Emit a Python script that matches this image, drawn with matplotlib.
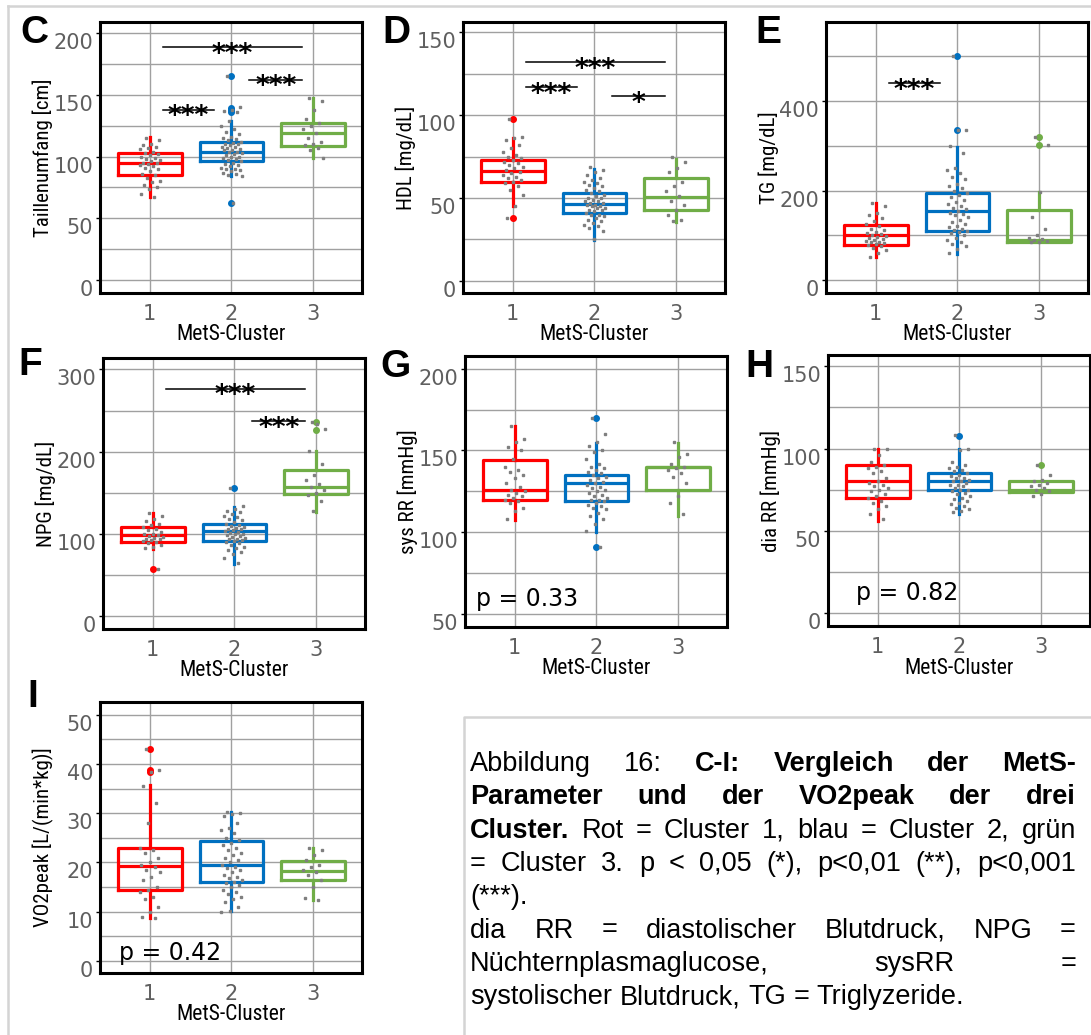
import matplotlib

matplotlib.use("Agg")
import matplotlib.pyplot as plt
from matplotlib.lines import Line2D
import numpy as np

W, H = 1091, 1035
COLORS = ["#ff0000", "#0070c0", "#70ad47"]
CLUSTERS = [1, 2, 3]
NARROW = ["Liberation Sans Narrow", "Roboto Condensed", "Liberation Sans"]

# ---- C: Taillenumfang ----
c_q1 = [85, 96, 108.7]
c_med = [95, 103.6, 118.7]
c_q3 = [102.5, 111.4, 127]
c_wlo = [67, 84, 98.5]
c_whi = [115.4, 129, 147]
c_fliers = [[], [165, 139.6, 138, 136, 62.5], []]
c_pts = [
    [115, 113, 110, 109, 108, 107, 106, 104, 103, 102, 101, 100, 99, 98, 97, 96, 95, 95,
     94, 93, 92, 91, 90, 88, 86, 85, 83, 80, 79, 77, 75, 74, 70, 67],
    [165, 140, 138, 137, 136, 129, 125, 122, 120, 118, 116, 115, 114, 113, 112, 111, 110,
     110, 109, 108, 108, 107, 106, 105, 105, 104, 104, 103, 102, 101, 100, 100, 99, 98, 97,
     96, 95, 94, 93, 92, 91, 90, 90, 89, 88, 87, 86, 85, 84, 62],
    [147, 145, 138, 130, 127, 125, 122, 119, 115, 112, 110, 109, 107, 105, 99],
]
c_sig = [(1, 3, 188.5, "***"), (2, 3, 162, "***"), (1, 2, 137.7, "***")]

# ---- D: HDL ----
d_q1 = [59.6, 40.7, 42.7]
d_med = [66.3, 46.3, 50.4]
d_q3 = [72.8, 53, 62]
d_wlo = [45.3, 24.4, 35.6]
d_whi = [86, 67.7, 73.8]
d_fliers = [[97.8, 37.8], [], []]
d_pts = [
    [98, 87, 86, 85, 82, 80, 78, 76, 75, 74, 73, 72, 71, 70, 69, 68, 67, 66, 65, 64, 63,
     62, 61, 60, 59, 57, 55, 52, 45, 38],
    [69, 67, 66, 64, 62, 61, 60, 59, 58, 57, 56, 55, 54, 53, 52, 51, 50, 50, 49, 48, 48,
     47, 47, 46, 46, 45, 45, 44, 44, 43, 43, 42, 41, 40, 40, 39, 38, 37, 36, 35, 34, 33,
     32, 30, 25],
    [75, 72, 68, 66, 60, 57, 54, 51, 48, 46, 43, 40, 37, 36],
]
d_sig = [(1, 3, 132, "***"), (1, 2, 116.9, "***"), (2, 3, 111.4, "*")]

# ---- E: TG ----
e_q1 = [78, 110, 85.4]
e_med = [99.6, 154, 90]
e_q3 = [123.6, 194.8, 156.5]
e_wlo = [51, 59, 85.4]
e_whi = [173, 298, 197]
e_fliers = [[], [500, 335.6], [319, 302.6]]
e_pts = [
    [173, 165, 150, 145, 138, 132, 125, 120, 115, 112, 108, 105, 103, 100, 98, 96, 94, 92,
     90, 88, 86, 84, 82, 80, 78, 75, 72, 68, 60, 52],
    [500, 336, 335, 300, 285, 250, 245, 240, 230, 225, 215, 210, 205, 200, 195, 190, 185,
     180, 175, 170, 165, 160, 158, 155, 150, 148, 145, 140, 135, 130, 125, 120, 118, 115,
     112, 110, 108, 105, 100, 95, 90, 85, 80, 75, 70, 60],
    [319, 303, 197, 140, 115, 100, 95, 92, 90, 88, 86, 85],
]
e_sig = [(1, 2, 440, "***")]

# ---- F: NPG ----
f_q1 = [89.8, 91.4, 147.8]
f_med = [98, 103, 156.3]
f_q3 = [108, 112, 177.6]
f_wlo = [81.6, 62.4, 126.5]
f_whi = [125, 132.7, 200.8]
f_fliers = [[57], [156], [235.5, 226.5]]
f_pts = [
    [125, 122, 118, 115, 112, 110, 108, 106, 104, 102, 100, 99, 98, 97, 96, 95, 94, 93,
     92, 91, 90, 88, 86, 84, 82, 57],
    [156, 134, 130, 128, 126, 124, 122, 120, 118, 116, 114, 112, 110, 109, 108, 107, 106,
     105, 104, 103, 102, 101, 100, 99, 98, 97, 96, 95, 94, 93, 92, 91, 90, 88, 86, 84, 82,
     80, 78, 75, 70, 64],
    [236, 227, 233, 201, 185, 172, 165, 160, 157, 153, 150, 147, 140, 127],
]
f_sig = [(1, 3, 276.7, "***"), (2, 3, 236.7, "***")]

# ---- G: sys RR ----
g_q1 = [119.8, 119.4, 126.1]
g_med = [126.1, 130, 140.2]
g_q3 = [144.3, 134.9, 140.2]
g_wlo = [107.6, 100, 110.2]
g_whi = [164.7, 154.7, 154.7]
g_fliers = [[], [169.8, 90.8], []]
g_pts = [
    [165, 157, 155, 152, 150, 145, 140, 138, 137, 135, 133, 130, 128, 126, 125, 124, 123,
     122, 121, 120, 119, 118, 115, 113, 108],
    [170, 160, 155, 153, 150, 149, 145, 142, 140, 139, 138, 137, 136, 135, 134, 133, 132,
     131, 130, 129, 128, 127, 126, 125, 124, 123, 122, 121, 120, 120, 119, 118, 117, 116,
     115, 114, 112, 110, 108, 105, 101, 91],
    [155, 148, 146, 142, 140, 139, 138, 136, 134, 130, 122, 118, 111],
]

# ---- H: dia RR ----
h_q1 = [70, 74.5, 73.3]
h_med = [80.2, 80.2, 74.5]
h_q3 = [89.8, 85.1, 80.2]
h_wlo = [56.1, 60.2, 73.3]
h_whi = [100, 100, 80.2]
h_fliers = [[], [107.8], [89.8]]
h_pts = [
    [100, 100, 96, 92, 90, 89, 88, 86, 85, 82, 80, 79, 78, 77, 76, 75, 74, 72, 71, 70, 68,
     67, 65, 63, 60, 57],
    [108, 100, 99, 92, 90, 89, 88, 87, 86, 85, 84, 83, 82, 82, 81, 80, 80, 79, 78, 78, 77,
     76, 75, 75, 74, 73, 72, 71, 70, 69, 68, 67, 66, 65, 64, 63, 62, 61],
    [90, 84, 81, 80, 79, 78, 77, 76, 75, 74, 72, 71],
]

# ---- I: VO2peak ----
i_q1 = [14.4, 16.1, 16.4]
i_med = [19.2, 19.4, 18.3]
i_q3 = [23, 24.3, 20.3]
i_wlo = [8.75, 10.2, 12.3]
i_whi = [35.8, 30.2, 23]
i_fliers = [[43, 38.7, 38.4], [], []]
i_pts = [
    [43, 38.7, 38.4, 35.5, 32, 28, 23, 22.5, 22, 21, 20, 19.5, 19, 18.5, 18, 17, 16.5, 15,
     14.5, 14, 13, 12.5, 11, 10, 9, 8.8],
    [30.3, 30, 29.8, 29.5, 28, 27, 26.5, 26, 25, 24.5, 24, 23.5, 23, 22.5, 22, 21.5, 21,
     20.5, 20, 19.5, 19, 18.8, 18.5, 18, 17.5, 17, 16.8, 16.5, 16, 15.8, 15.5, 15, 14.5,
     14, 13.5, 13, 12.5, 12, 11, 10.2, 10],
    [23, 22.5, 21.5, 20.5, 19.5, 19, 18.5, 18, 17.5, 16.5, 15, 12.8, 12.3],
]

panels = [
    dict(letter="C", ylabel="Taillenumfang [cm]", ylim=(-10.4, 208.8), major=50, minor=25,
         top=(0, 200, 200), stats=(c_q1, c_med, c_q3, c_wlo, c_whi, c_fliers), pts=c_pts, sig=c_sig),
    dict(letter="D", ylabel="HDL [mg/dL]", ylim=(-7.3, 156.3), major=50, minor=25,
         top=(0, 150, 150), stats=(d_q1, d_med, d_q3, d_wlo, d_whi, d_fliers), pts=d_pts, sig=d_sig),
    dict(letter="E", ylabel="TG [mg/dL]", ylim=(-29, 577), major=200, minor=100,
         top=(0, 400, 500), stats=(e_q1, e_med, e_q3, e_wlo, e_whi, e_fliers), pts=e_pts, sig=e_sig),
    dict(letter="F", ylabel="NPG [mg/dL]", ylim=(-16.3, 314), major=100, minor=50,
         top=(0, 300, 300), stats=(f_q1, f_med, f_q3, f_wlo, f_whi, f_fliers), pts=f_pts, sig=f_sig),
    dict(letter="G", ylabel="sys RR [mmHg]", ylim=(42.2, 207.7), major=50, minor=25,
         top=(50, 200, 200), stats=(g_q1, g_med, g_q3, g_wlo, g_whi, g_fliers), pts=g_pts,
         ptext="p = 0.33", ppos=(0.042, 0.077)),
    dict(letter="H", ylabel="dia RR [mmHg]", ylim=(-8.2, 157), major=50, minor=25,
         top=(0, 150, 150), stats=(h_q1, h_med, h_q3, h_wlo, h_whi, h_fliers), pts=h_pts,
         ptext="p = 0.82", ppos=(0.107, 0.096)),
    dict(letter="I", ylabel="VO2peak [L/(min*kg)]", ylim=(-2.45, 52.6), major=10, minor=5,
         top=(0, 50, 50), stats=(i_q1, i_med, i_q3, i_wlo, i_whi, i_fliers), pts=i_pts,
         ptext="p = 0.42", ppos=(0.072, 0.048)),
]

# axes frames in pixels: (left, top), letter position (left, top)
frames = [(100, 22), (463, 22), (826, 22), (103, 358), (465, 356), (828, 355), (100, 702)]
letters_px = [(20, 15), (382, 15), (755, 15), (18, 347), (380, 349), (745, 349), (27, 679)]
AX_W, AX_H = 262, 271

fig = plt.figure(figsize=(W / 100, H / 100), dpi=100)


def jitter(n):
    return (((np.arange(n) * 0.618034 + 0.31) % 1.0) - 0.5) * 0.26


for spec, (fl, ft), (lx, ly) in zip(panels, frames, letters_px):
    ax = fig.add_axes([fl / W, 1 - (ft + AX_H) / H, AX_W / W, AX_H / H])
    q1, med, q3, wlo, whi, fliers = spec["stats"]
    for k, c in enumerate(CLUSTERS):
        st = dict(q1=q1[k], med=med[k], q3=q3[k], whislo=wlo[k], whishi=whi[k],
                  fliers=fliers[k], mean=med[k])
        col = COLORS[k]
        ax.bxp([st], positions=[c], widths=0.78, showcaps=False, patch_artist=False,
               boxprops=dict(color=col, linewidth=2.3),
               medianprops=dict(color=col, linewidth=2.3),
               whiskerprops=dict(color=col, linewidth=2.3),
               flierprops=dict(marker="o", markerfacecolor=col, markeredgecolor=col,
                               markersize=4),
               manage_ticks=False, zorder=3)
        vals = np.array(spec["pts"][k])
        ax.plot(c + jitter(len(vals)), vals, linestyle="none", marker="s", markersize=1.6,
                color="#7f7f7f", zorder=4)

    for g1, g2, y, lab in spec.get("sig", []):
        x0 = g1 + (0.16 if g1 == 1 else 0.22)
        x1 = g2 - (0.13 if g2 == 3 else 0.21)
        ax.plot([x0, x1], [y, y], color="black", linewidth=1.1, zorder=5)
        ax.annotate(lab, xy=((x0 + x1) / 2, y), xytext=(0, -10.5), textcoords="offset points",
                    ha="center", va="baseline", fontsize=19, fontweight="bold",
                    family="DejaVu Sans", zorder=6)

    if "ptext" in spec:
        ax.text(spec["ppos"][0], spec["ppos"][1], spec["ptext"], transform=ax.transAxes,
                fontsize=17, family="DejaVu Sans", color="black", ha="left",
                va="baseline", zorder=6)

    ax.set_xlim(0.39, 3.6)
    ax.set_ylim(*spec["ylim"])
    lo, hi_major, hi_minor = spec["top"]
    ax.set_yticks(np.arange(lo, hi_major + 0.01, spec["major"]))
    ax.set_yticks(np.arange(lo, hi_minor + 0.01, spec["minor"]), minor=True)
    ax.set_xticks(CLUSTERS)
    ax.set_xticklabels([str(c) for c in CLUSTERS])
    ax.grid(which="both", axis="y", color="#a0a0a0", linewidth=1.0, zorder=0)
    ax.grid(which="major", axis="x", color="#a0a0a0", linewidth=1.0, zorder=0)
    ax.set_axisbelow(True)
    ax.tick_params(axis="y", which="major", length=3, width=1, color="black", pad=2,
                   labelsize=15, labelcolor="#5f5f5f")
    ax.tick_params(axis="y", which="minor", length=0)
    ax.tick_params(axis="x", length=0, pad=8, labelsize=15, labelcolor="#5f5f5f")
    for lbl in ax.get_yticklabels():
        lbl.set_va("top")
    for sp in ax.spines.values():
        sp.set_linewidth(2.2)
        sp.set_color("black")

    ax.set_ylabel(spec["ylabel"], family=NARROW, fontsize=15, va="center")
    ax.yaxis.set_label_coords(-57 / AX_W, 0.5)
    ax.set_xlabel("MetS-Cluster", family=NARROW, fontsize=15.5, va="center")
    ax.xaxis.set_label_coords(0.5, -42 / AX_H)

    fig.text(lx / W, 1 - ly / H, spec["letter"], fontsize=28, fontweight="bold",
             family="Liberation Sans", ha="left", va="top")

# page borders
border = dict(color="#d4d4d4", linewidth=1.8)
fig.add_artist(Line2D([8 / W, 1], [1 - 6 / H, 1 - 6 / H], transform=fig.transFigure, **border))
fig.add_artist(Line2D([8 / W, 8 / W], [0, 1 - 6 / H], transform=fig.transFigure, **border))
fig.add_artist(Line2D([464 / W, 464 / W, 1], [0, 1 - 717 / H, 1 - 717 / H],
                      transform=fig.transFigure, **border))

# caption, justified by hand
caption = [
    ([("Abbildung", False), ("16:", False), ("C-I:", True), ("Vergleich", True), ("der", True),
      ("MetS-", True)], True),
    ([("Parameter", True), ("und", True), ("der", True), ("VO2peak", True), ("der", True),
      ("drei", True)], True),
    ([("Cluster.", True), ("Rot", False), ("=", False), ("Cluster", False), ("1,", False),
      ("blau", False), ("=", False), ("Cluster", False), ("2,", False), ("grün", False)], True),
    ([("=", False), ("Cluster", False), ("3.", False), ("p", False), ("<", False),
      ("0,05", False), ("(*),", False), ("p<0,01", False), ("(**),", False),
      ("p<0,001", False)], True),
    ([("(***).", False)], False),
    ([("dia", False), ("RR", False), ("=", False), ("diastolischer", False),
      ("Blutdruck,", False), ("NPG", False), ("=", False)], True),
    ([("Nüchternplasmaglucose,", False), ("sysRR", False), ("=", False)], True),
    ([("systolischer", False), ("Blutdruck,", False), ("TG", False), ("=", False),
      ("Triglyzeride.", False)], False),
]
CAP_L, CAP_R, CAP_Y0, CAP_DY, CAP_FS = 470, 1076, 771, 33.3, 19.5
renderer = fig.canvas.get_renderer()
space_px = 0.278 * CAP_FS * 100 / 72
for li, (words, justify) in enumerate(caption):
    y = CAP_Y0 + li * CAP_DY
    objs = [fig.text(0, 1 - y / H, w, fontsize=CAP_FS, family="Liberation Sans",
                     fontweight="bold" if b else "normal", ha="left", va="baseline")
            for w, b in words]
    widths = [t.get_window_extent(renderer).width for t in objs]
    if justify and len(objs) > 1:
        gap = (CAP_R - CAP_L - sum(widths)) / (len(objs) - 1)
    else:
        gap = space_px
    x = CAP_L
    for t, wd in zip(objs, widths):
        t.set_x(x / W)
        x += wd + gap

fig.savefig("out.png", dpi=100)
